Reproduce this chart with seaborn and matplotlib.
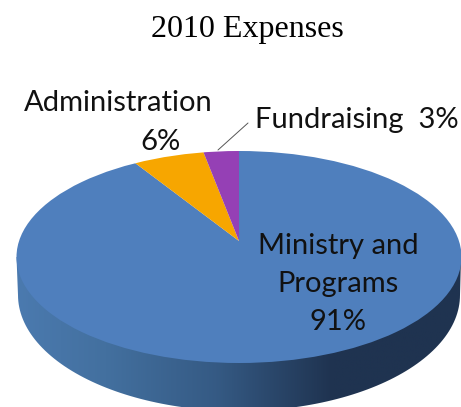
import matplotlib.pyplot as plt
import seaborn as sns
import numpy as np
from matplotlib.colors import LinearSegmentedColormap
from matplotlib.patches import Ellipse, Polygon

categories = ["Ministry and\nPrograms", "Administration", "Fundraising"]
shares = [91, 6, 3]
slice_colors = ["#4f7fbd", "#f7a600", "#9540b5"]

W, H = 461, 407
SQUASH = 106 / 222.5


def py(y):
    # picture pixel row -> data y (the pie is round in data units, squashed by the axes)
    return (H - y) / SQUASH


sns.set_theme(style="white")
fig = plt.figure(figsize=(W / 100, H / 100), dpi=100)
ax = fig.add_axes([0, 0, 1, 1])

wedges, _ = ax.pie(
    shares,
    colors=sns.color_palette(slice_colors),
    startangle=90,
    counterclock=False,
    center=(239, py(241)),
    radius=520,
    wedgeprops={"linewidth": 0},
)
top = Ellipse((239, py(257)), 445, 2 * 222.5, transform=ax.transData)
for w in wedges:
    w.set_clip_on(True)
    w.set_clip_path(top)
    w.set_zorder(3)

ax.set_aspect("auto")
ax.set_xlim(0, W)
ax.set_ylim(0, H / SQUASH)
ax.axis("off")

# side of the disc
t = np.linspace(np.pi, 0, 120)
edge = np.column_stack([239 + 221 * np.cos(t), py(295 + 116 * np.sin(t))])
side_outline = np.vstack([[16.5, py(257)], edge, [461, py(257)]])
side = Polygon(side_outline, closed=True, transform=ax.transData, fc="none", ec="none")
ax.add_patch(side)
cmap = LinearSegmentedColormap.from_list(
    "side",
    [(0, "#4b7aaf"), (0.2, "#43709f"), (0.45, "#355a84"), (0.71, "#1f3350"), (1, "#1f3350")],
)
grad = ax.imshow(
    np.linspace(0, 1, 256)[None, :],
    cmap=cmap,
    extent=(16, 461, py(407), py(257)),
    aspect="auto",
    zorder=2,
)
grad.set_clip_path(side)
ax.set_xlim(0, W)
ax.set_ylim(0, H / SQUASH)

ax.text(247, py(30), "2010 Expenses", family="Liberation Serif", fontsize=23,
        ha="center", va="center", color="black")

font = dict(family="Lato", fontsize=21, ha="center", va="center", color="#111111", zorder=5)
ax.text(338, py(284), f"{categories[0]}\n{shares[0]}%", linespacing=1.55, **font)
ax.text(118, py(103), categories[1], **font)
ax.text(160, py(142), f"{shares[1]}%", **font)
ax.text(357, py(120), f"{categories[2]}  {shares[2]}%", **font)

ax.plot([218, 248], [py(150), py(123)], color="#555555", lw=0.7, zorder=5)

fig.savefig("out.png", dpi=100)
